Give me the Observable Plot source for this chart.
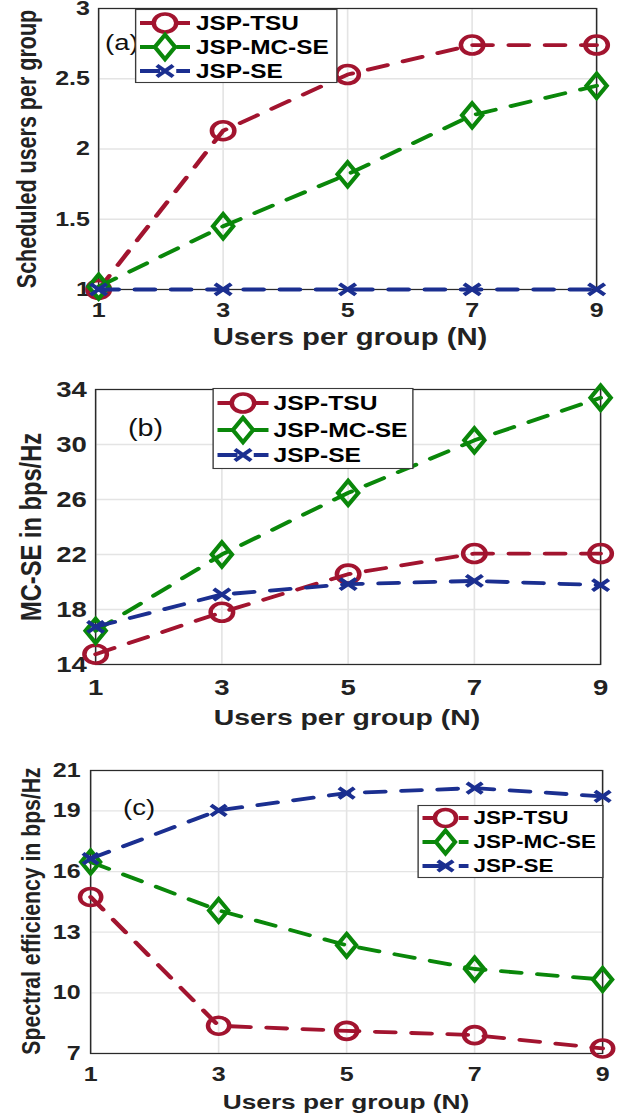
<!DOCTYPE html>
<html><head><meta charset="utf-8">
<script src="https://cdn.jsdelivr.net/npm/d3@7"></script>
<script src="https://cdn.jsdelivr.net/npm/@observablehq/plot@0.6"></script>
<style>
body{margin:0;background:#fff}
#root{position:relative;width:631px;height:1118px;overflow:hidden;font-family:"Liberation Sans",Arial,sans-serif;color:#222;background:#fff}
.panel{position:absolute;left:0;transform-origin:0 0}
.panel svg{position:absolute;left:0;top:0}
.ylab{position:absolute;font-weight:bold;white-space:nowrap;transform:translate(-50%,-50%) rotate(-90deg)}
.xlab{position:absolute;font-weight:bold;white-space:nowrap;transform:translate(-50%,-50%)}
.tag{position:absolute;white-space:nowrap;transform:translate(0,-50%);color:#111}
</style></head><body><div id="root"></div>
<script>
// ---- data ----
const usersPerGroup = [1, 3, 5, 7, 9];
const seriesNames = ["JSP-TSU", "JSP-MC-SE", "JSP-SE"];
// (a) Scheduled users per group
const scheduledTSU  = [1.0, 2.13, 2.53, 2.74, 2.74];
const scheduledMCSE = [1.02, 1.45, 1.82, 2.24, 2.45];
const scheduledSE   = [1.0, 1.0, 1.0, 1.0, 1.0];
// (b) MC-SE in bps/Hz
const mcseTSU  = [14.75, 17.8, 20.57, 22.07, 22.07];
const mcseMCSE = [16.45, 22.0, 26.48, 30.3, 33.4];
const mcseSE   = [16.74, 19.09, 19.84, 20.08, 19.77];
// (c) Spectral efficiency in bps/Hz
const seTSU  = [14.74, 8.37, 8.12, 7.91, 7.25];
const seMCSE = [16.47, 14.08, 12.35, 11.18, 10.66];
const seSE   = [16.64, 19.03, 19.88, 20.13, 19.72];
// ticks and labels
const yTicksA = [1, 1.5, 2, 2.5, 3];
const yTicksB = [14, 18, 22, 26, 30, 34];
const yTicksC = [7, 10, 13, 16, 19, 21];
const xLabel = "Users per group (N)";
const yLabels = ["Scheduled users per group", "MC-SE in bps/Hz", "Spectral efficiency in bps/Hz"];
const panelTags = ["(a)", "(b)", "(c)"];

// ---- styles ----
const SX = 1.25;              // the figure is stretched horizontally
const W = 631 / SX;
const colors = {"JSP-TSU": "#A2142F", "JSP-MC-SE": "#0A870A", "JSP-SE": "#1B2F90"};
const circleSym = {draw(ctx, size){ const r = Math.sqrt(size/Math.PI); ctx.moveTo(r,0); ctx.arc(0,0,r,0,2*Math.PI); ctx.closePath(); }};
const diamondSym = {draw(ctx, size){ const r = Math.sqrt(size/Math.PI); ctx.moveTo(0,-r*1.35); ctx.lineTo(r*0.9,0); ctx.lineTo(0,r*1.35); ctx.lineTo(-r*0.9,0); ctx.closePath(); }};
const crossSym = {draw(ctx, size){ const r = Math.sqrt(size/Math.PI); const w=r, h=r*0.85; ctx.moveTo(-w,-h); ctx.lineTo(w,h); ctx.moveTo(-w,h); ctx.lineTo(w,-h); }};
const symbols = {"JSP-TSU": circleSym, "JSP-MC-SE": diamondSym, "JSP-SE": crossSym};
const dash = "16,13";

const root = document.getElementById("root");

function makePanel(cfg){
  const radii = {"JSP-TSU": cfg.r, "JSP-MC-SE": cfg.r, "JSP-SE": cfg.r * 0.72};
  const data = [];
  cfg.values.forEach((vals, i) => vals.forEach((v, j) => data.push({series: seriesNames[i], x: usersPerGroup[j], y: v})));
  const marks = [
    Plot.gridX(usersPerGroup, {stroke: "#e4e4e4", strokeOpacity: 1, strokeWidth: 1.3}),
    Plot.gridY(cfg.yTicks, {stroke: "#e4e4e4", strokeOpacity: 1, strokeWidth: 1.3}),
    Plot.frame({stroke: "#2a2a2a", strokeWidth: 1.2}),
    Plot.axisX(usersPerGroup, {tickSize: 0, tickPadding: cfg.xPad, fontSize: cfg.tickFont, fontWeight: "bold", label: null, tickFormat: d => String(d)}),
    Plot.axisY(cfg.yTicks, {tickSize: 0, tickPadding: cfg.yPad, fontSize: cfg.tickFont, fontWeight: "bold", label: null, tickFormat: d => String(d)})
  ];
  seriesNames.forEach(name => {
    const d = data.filter(r => r.series === name);
    marks.push(Plot.line(d, {x: "x", y: "y", stroke: colors[name], strokeWidth: 3.8, strokeDasharray: dash}));
    marks.push(Plot.dot(d, {x: "x", y: "y", symbol: symbols[name], r: radii[name], stroke: colors[name], strokeWidth: 3.6, fill: "none"}));
  });
  const svg = Plot.plot({
    width: W, height: cfg.height,
    marginTop: cfg.mt, marginBottom: cfg.mb, marginLeft: cfg.ml, marginRight: cfg.mr,
    style: {fontFamily: '"Liberation Sans", Arial, sans-serif', color: "#222", background: "transparent", overflow: "visible"},
    x: {domain: [1, 9]},
    y: {domain: cfg.yDomain},
    marks
  });
  const wrap = document.createElement("div");
  wrap.className = "panel";
  wrap.style.top = cfg.top + "px";
  wrap.style.width = W + "px";
  wrap.style.height = cfg.height + "px";
  wrap.style.transform = `scaleX(${SX})`;
  wrap.appendChild(svg);
  root.appendChild(wrap);

  const tag = document.createElement("div");
  tag.className = "tag"; tag.textContent = cfg.tag;
  tag.style.left = cfg.tagPos[0] + "px"; tag.style.top = cfg.tagPos[1] + "px"; tag.style.fontSize = cfg.tagFont + "px";
  wrap.appendChild(tag);

  const yl = document.createElement("div");
  yl.className = "ylab"; yl.textContent = cfg.ylabel;
  yl.style.left = cfg.ylabPos[0] + "px"; yl.style.top = cfg.ylabPos[1] + "px"; yl.style.fontSize = cfg.ylabFont + "px";
  wrap.appendChild(yl);

  const xl = document.createElement("div");
  xl.className = "xlab"; xl.textContent = xLabel;
  xl.style.left = cfg.xlabPos[0] + "px"; xl.style.top = cfg.xlabPos[1] + "px"; xl.style.fontSize = cfg.xlabFont + "px";
  wrap.appendChild(xl);

  // legend
  const L = cfg.legend;
  const lg = d3.create("svg")
    .attr("width", L.w).attr("height", L.h)
    .style("left", L.x + "px").style("top", L.y + "px").style("position", "absolute").style("overflow", "visible");
  lg.append("rect").attr("x", 0.5).attr("y", 0.5).attr("width", L.w - 1).attr("height", L.h - 1)
    .attr("fill", "#fff").attr("stroke", "#3a3a3a").attr("stroke-width", 1.1);
  seriesNames.forEach((name, i) => {
    const cy = L.rows[i];
    lg.append("line").attr("x1", L.s0).attr("x2", L.s1).attr("y1", cy).attr("y2", cy)
      .attr("stroke", colors[name]).attr("stroke-width", 3.8).attr("stroke-dasharray", dash);
    const sz = Math.PI * radii[name] * radii[name];
    lg.append("path").attr("d", d3.symbol(symbols[name], sz)()).attr("transform", `translate(${(L.s0 + L.s1) / 2},${cy})`)
      .attr("fill", name === "JSP-SE" ? "none" : "#fff").attr("stroke", colors[name]).attr("stroke-width", 3.6);
    lg.append("text").attr("x", L.tx).attr("y", cy).attr("dy", "0.36em")
      .attr("font-family", '"Liberation Sans", Arial, sans-serif').attr("font-weight", "bold")
      .attr("font-size", L.font).attr("fill", "#000").text(name);
  });
  wrap.appendChild(lg.node());
}

makePanel({
  top: 0, height: 360, mt: 8, mb: 71, ml: 78.4, mr: 28,
  values: [scheduledTSU, scheduledMCSE, scheduledSE], yTicks: yTicksA, yDomain: [1, 3],
  tickFont: 20, xPad: 13, yPad: 7, r: 9,
  tag: panelTags[0], tagPos: [84, 43], tagFont: 22,
  ylabel: yLabels[0], ylabPos: [22.4, 149], ylabFont: 21.5,
  xlabPos: [280, 337], xlabFont: 23.4,
  legend: {x: 108, y: 9, w: 162, h: 74, rows: [14, 38, 62], s0: 4, s1: 44, tx: 48.8, font: 19.5}
});
makePanel({
  top: 360, height: 380, mt: 29, mb: 76, ml: 76, mr: 24.8,
  values: [mcseTSU, mcseMCSE, mcseSE], yTicks: yTicksB, yDomain: [14, 34],
  tickFont: 22, xPad: 15, yPad: 7, r: 9,
  tag: panelTags[1], tagPos: [102.4, 68], tagFont: 23,
  ylabel: yLabels[1], ylabPos: [24.8, 167], ylabFont: 23.7,
  xlabPos: [277.6, 357], xlabFont: 22.7,
  legend: {x: 169.6, y: 28, w: 160.8, h: 81, rows: [15, 42, 67], s0: 4, s1: 44.8, tx: 48.8, font: 19.7}
});
makePanel({
  top: 740, height: 378, mt: 30, mb: 65, ml: 72, mr: 23.2,
  values: [seTSU, seMCSE, seSE], yTicks: yTicksC, yDomain: [7, 21],
  tickFont: 20, xPad: 13, yPad: 8, r: 8.5,
  tag: panelTags[2], tagPos: [98.4, 68], tagFont: 22,
  ylabel: yLabels[2], ylabPos: [24.8, 171], ylabFont: 21.2,
  xlabPos: [276.8, 362], xlabFont: 21,
  legend: {x: 333.6, y: 65, w: 148.8, h: 73, rows: [13, 37, 61], s0: 4, s1: 40.8, tx: 44.8, font: 18}
});
</script></body></html>
